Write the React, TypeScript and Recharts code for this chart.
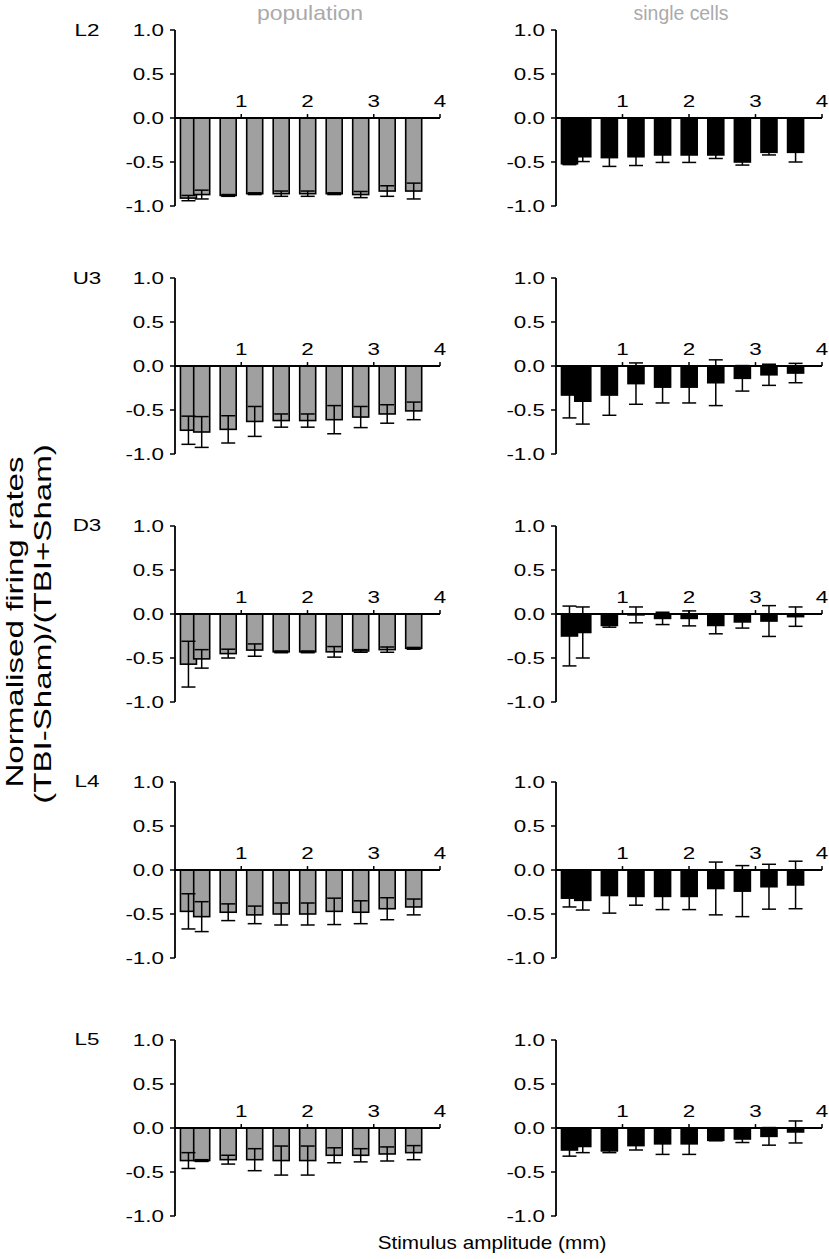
import React from 'react';
import { ComposedChart, Bar, XAxis, YAxis, ErrorBar, ReferenceLine } from 'recharts';

// ---------- data ----------
const amplitudes = [0.2, 0.4, 0.8, 1.2, 1.6, 2.0, 2.4, 2.8, 3.2, 3.6];
const xTicks = [1, 2, 3, 4];
const yTicks = [-1, -0.5, 0, 0.5, 1];
const layerNames = ['L2', 'U3', 'D3', 'L4', 'L5'];
const columnTitles = ['population', 'single cells'];
const xTitle = 'Stimulus amplitude (mm)';
const yTitleLines = ['Normalised firing rates', '(TBI-Sham)/(TBI+Sham)'];

const l2PopMean = [-0.91, -0.87, -0.88, -0.86, -0.86, -0.86, -0.86, -0.87, -0.83, -0.83];
const l2PopErr = [0.03, 0.05, 0.01, 0.01, 0.03, 0.03, 0.01, 0.035, 0.06, 0.09];
const l2CellMean = [-0.52, -0.44, -0.45, -0.44, -0.42, -0.42, -0.42, -0.5, -0.39, -0.39];
const l2CellErr = [0.01, 0.055, 0.1, 0.1, 0.085, 0.085, 0.04, 0.035, 0.03, 0.11];

const u3PopMean = [-0.73, -0.75, -0.72, -0.63, -0.62, -0.62, -0.61, -0.58, -0.545, -0.51];
const u3PopErr = [0.16, 0.175, 0.155, 0.17, 0.075, 0.075, 0.16, 0.12, 0.105, 0.1];
const u3CellMean = [-0.33, -0.4, -0.33, -0.2, -0.24, -0.24, -0.19, -0.14, -0.1, -0.08];
const u3CellErr = [0.26, 0.26, 0.23, 0.235, 0.18, 0.18, 0.26, 0.145, 0.12, 0.11];

const d3PopMean = [-0.57, -0.51, -0.45, -0.41, -0.43, -0.43, -0.43, -0.42, -0.405, -0.39];
const d3PopErr = [0.26, 0.105, 0.05, 0.07, 0.01, 0.01, 0.06, 0.015, 0.03, 0.01];
const d3CellMean = [-0.25, -0.21, -0.13, -0.01, -0.05, -0.05, -0.13, -0.09, -0.08, -0.03];
const d3CellErr = [0.34, 0.29, 0.02, 0.09, 0.07, 0.085, 0.095, 0.07, 0.175, 0.11];

const l4PopMean = [-0.47, -0.53, -0.48, -0.51, -0.5, -0.5, -0.47, -0.48, -0.44, -0.42];
const l4PopErr = [0.2, 0.17, 0.095, 0.1, 0.125, 0.125, 0.15, 0.13, 0.125, 0.09];
const l4CellMean = [-0.32, -0.345, -0.29, -0.3, -0.3, -0.3, -0.21, -0.24, -0.19, -0.17];
const l4CellErr = [0.1, 0.11, 0.2, 0.1, 0.15, 0.15, 0.3, 0.29, 0.255, 0.27];

const l5PopMean = [-0.37, -0.37, -0.36, -0.36, -0.37, -0.37, -0.31, -0.31, -0.295, -0.28];
const l5PopErr = [0.09, 0.01, 0.05, 0.125, 0.165, 0.165, 0.085, 0.075, 0.08, 0.08];
const l5CellMean = [-0.25, -0.21, -0.26, -0.2, -0.18, -0.18, -0.14, -0.125, -0.095, -0.045];
const l5CellErr = [0.07, 0.07, 0.02, 0.05, 0.12, 0.12, 0.005, 0.04, 0.1, 0.125];

const popMeans = [l2PopMean, u3PopMean, d3PopMean, l4PopMean, l5PopMean];
const popErrs = [l2PopErr, u3PopErr, d3PopErr, l4PopErr, l5PopErr];
const cellMeans = [l2CellMean, u3CellMean, d3CellMean, l4CellMean, l5CellMean];
const cellErrs = [l2CellErr, u3CellErr, d3CellErr, l4CellErr, l5CellErr];

// ---------- layout / style ----------
const FONT = '"Liberation Sans", Arial, Helvetica, sans-serif';
const ROW_ZERO = [118, 366, 613.5, 869.5, 1127.5];
const CH = 200;
const MT = 12;
const MB = 12;
const GRAY = '#a0a0a0';
const TICK_SX = 1.4;
const TICK_FS = 16;
const BAR_W = 16;

const YTick = (props: any) => {
  const { x, y, payload } = props;
  return (
    <text
      transform={`translate(${x},${y}) scale(${TICK_SX},1)`}
      textAnchor="end"
      dy="0.36em"
      fontSize={TICK_FS}
      fontFamily={FONT}
      fill="#000"
    >
      {Number(payload.value).toFixed(1)}
    </text>
  );
};

const makeXTickShape = (label: number) => (p: any) => {
  const { x1, y1, x2, y2 } = p;
  return (
    <g>
      <line x1={x1} y1={y1} x2={x2} y2={y2} stroke="#000" strokeWidth={1.5} />
      <text
        transform={`translate(${x1},${Math.min(y1, y2) - 7}) scale(${TICK_SX},1)`}
        textAnchor="middle"
        fontSize={TICK_FS}
        fontFamily={FONT}
        fill="#000"
      >
        {label}
      </text>
    </g>
  );
};

// Bar drawn at the library's bar centre with a fixed visual width
const BarShape = (p: any) => {
  const { x, y, width, height, fill } = p;
  if (x == null || y == null) return null;
  const cx = x + width / 2;
  const top = Math.min(y, y + height);
  const h = Math.abs(height);
  return (
    <rect x={cx - BAR_W / 2} y={top} width={BAR_W} height={h} fill={fill} stroke="#000" strokeWidth={1.6} />
  );
};

type PanelProps = {
  mean: number[];
  err: number[];
  fill: string;
  left: number;
  top: number;
  width: number;
  yAxisWidth: number;
  marginRight: number;
};

function Panel({ mean, err, fill, left, top, width, yAxisWidth, marginRight }: PanelProps) {
  const data = amplitudes.map((x, i) => ({ x, v: mean[i], e: err[i] }));
  return (
    <div style={{ position: 'absolute', left, top }}>
      <ComposedChart
        width={width}
        height={CH}
        data={data}
        margin={{ top: MT, right: marginRight, bottom: MB, left: 0 }}
      >
        <XAxis type="number" dataKey="x" domain={[0, 4]} hide />
        <YAxis
          type="number"
          domain={[-1, 1]}
          ticks={yTicks}
          interval={0}
          width={yAxisWidth}
          allowDataOverflow
          axisLine={{ stroke: '#000', strokeWidth: 1.8 }}
          tickLine={{ stroke: '#000', strokeWidth: 1.5 }}
          tickSize={5}
          tickMargin={6}
          tick={(p: any) => <YTick {...p} />}
        />
        <Bar dataKey="v" fill={fill} shape={(p: any) => <BarShape {...p} />} isAnimationActive={false}>
          <ErrorBar dataKey="e" width={7} stroke="#000" strokeWidth={1.5} direction="y" />
        </Bar>
        <ReferenceLine y={0} stroke="#000" strokeWidth={1.8} />
        {xTicks.map((t) => (
          <ReferenceLine
            key={t}
            segment={[
              { x: t, y: 0 },
              { x: t, y: 0.045 },
            ]}
            stroke="#000"
            shape={makeXTickShape(t)}
          />
        ))}
      </ComposedChart>
    </div>
  );
}

export default function App() {
  return (
    <div
      style={{
        position: 'absolute',
        left: 0,
        top: 0,
        width: 829,
        height: 1259,
        background: '#fff',
        fontFamily: FONT,
      }}
    >
      {layerNames.map((name, r) => (
        <React.Fragment key={name}>
          <Panel
            mean={popMeans[r]}
            err={popErrs[r]}
            fill={GRAY}
            left={0}
            top={ROW_ZERO[r] - 88 - MT}
            width={460}
            yAxisWidth={175}
            marginRight={20}
          />
          <Panel
            mean={cellMeans[r]}
            err={cellErrs[r]}
            fill="#000"
            left={456}
            top={ROW_ZERO[r] - 88 - MT}
            width={373}
            yAxisWidth={100}
            marginRight={7}
          />
        </React.Fragment>
      ))}
      <svg
        width={829}
        height={1259}
        style={{ position: 'absolute', left: 0, top: 0, pointerEvents: 'none' }}
      >
        <text transform="translate(310,20) scale(1.15,1)" textAnchor="middle" fontSize={20} fontFamily={FONT} fill="#aaaaaa">
          {columnTitles[0]}
        </text>
        <text transform="translate(681,20) scale(0.97,1)" textAnchor="middle" fontSize={20} fontFamily={FONT} fill="#aaaaaa">
          {columnTitles[1]}
        </text>
        {layerNames.map((name, r) => (
          <text
            key={name}
            transform={`translate(${87},${ROW_ZERO[r] - 88}) scale(${TICK_SX},1)`}
            textAnchor="middle"
            dy="0.36em"
            fontSize={TICK_FS}
            fontFamily={FONT}
            fill="#000"
          >
            {name}
          </text>
        ))}
        <text transform="translate(492,1249) scale(1.15,1)" textAnchor="middle" fontSize={18} fontFamily={FONT} fill="#000">
          {xTitle}
        </text>
        <g transform="translate(14,622) rotate(-90) scale(1.38,1)">
          <text textAnchor="middle" dy="0.36em" fontSize={24} fontFamily={FONT} fill="#000">
            {yTitleLines[0]}
          </text>
        </g>
        <g transform="translate(42,624) rotate(-90) scale(1.38,1)">
          <text textAnchor="middle" dy="0.36em" fontSize={24} fontFamily={FONT} fill="#000">
            {yTitleLines[1]}
          </text>
        </g>
      </svg>
    </div>
  );
}
